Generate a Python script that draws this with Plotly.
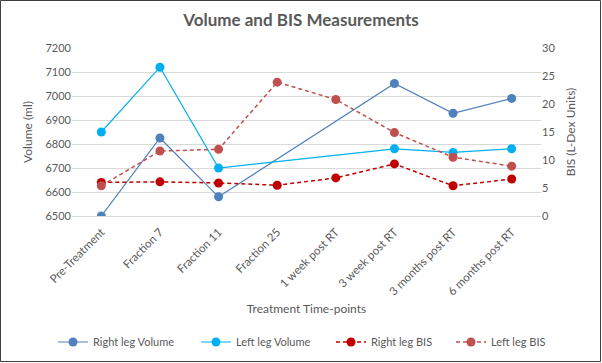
import plotly.graph_objects as go

categories = ["Pre-Treatment", "Fraction 7", "Fraction 11", "Fraction 25",
              "1 week post RT", "3 week post RT", "3 months post RT", "6 months post RT"]
right_leg_volume = [6500, 6825, 6580, None, None, 7052, 6928, 6990]
left_leg_volume = [6850, 7120, 6700, None, None, 6780, 6765, 6780]
right_leg_bis = [6.0, 6.1, 5.9, 5.5, 6.8, 9.3, 5.4, 6.6]
left_leg_bis = [5.4, 11.6, 11.9, 23.9, 20.8, 14.9, 10.5, 8.9]

W, H = 602, 363
ML, MR, MT, MB = 72, 61, 48, 147
FONT = "Lato, 'Open Sans', sans-serif"
GRAY = "#595959"
pw = W - ML - MR
ph = H - MT - MB

fig = go.Figure()
fig.add_trace(go.Scatter(x=categories, y=right_leg_volume, name="Right leg Volume",
                         mode="lines+markers", connectgaps=True, legend="legend",
                         line=dict(color="#4F81BD", width=1.2),
                         marker=dict(color="#4F81BD", size=9)))
fig.add_trace(go.Scatter(x=categories, y=left_leg_volume, name="Left leg Volume",
                         mode="lines+markers", connectgaps=True, legend="legend2",
                         line=dict(color="#00B0F0", width=1.2),
                         marker=dict(color="#00B0F0", size=9)))
fig.add_trace(go.Scatter(x=categories, y=right_leg_bis, name="Right leg BIS", yaxis="y2",
                         mode="lines+markers", legend="legend3",
                         line=dict(color="#C00000", width=1.5, dash="4px,3px"),
                         marker=dict(color="#C00000", size=9)))
fig.add_trace(go.Scatter(x=categories, y=left_leg_bis, name="Left leg BIS", yaxis="y2",
                         mode="lines+markers", legend="legend4",
                         line=dict(color="#C0504D", width=1.5, dash="4px,3px"),
                         marker=dict(color="#C0504D", size=9)))


def leg(px):
    return dict(orientation="h", x=(px - ML) / pw, xanchor="left",
                y=-(342 - MT - ph) / ph, yanchor="middle",
                font=dict(size=11, color=GRAY), itemwidth=30,
                bgcolor="rgba(0,0,0,0)")


fig.update_layout(
    width=W, height=H,
    margin=dict(l=ML, r=MR, t=MT, b=MB, autoexpand=False),
    paper_bgcolor="white", plot_bgcolor="white",
    font=dict(family=FONT, color=GRAY, size=11),
    title=dict(text="<b>Volume and BIS Measurements</b>", x=0.5, xanchor="center",
               y=1 - 20 / H, yanchor="middle", font=dict(size=17, color=GRAY)),
    xaxis=dict(type="category", range=[-0.5, 7.5], tickangle=-45, showgrid=False,
               showline=True, linecolor="#D9D9D9", ticks="",
               ticklabelstandoff=4,
               tickfont=dict(size=11.5, color=GRAY),
               title=dict(text="Treatment Time-points", font=dict(size=12, color=GRAY), standoff=8)),
    yaxis=dict(range=[6500, 7200], dtick=100, showgrid=True, gridcolor="#D9D9D9",
               zeroline=False, showline=False, ticks="",
               tickfont=dict(size=11, color=GRAY),
               title=dict(text="Volume (ml)", font=dict(size=12, color=GRAY), standoff=10)),
    yaxis2=dict(range=[0, 30], dtick=5, overlaying="y", side="right", showgrid=False,
                zeroline=False, showline=False, ticks="",
                tickfont=dict(size=11, color=GRAY),
                title=dict(text="BIS (L-Dex Units)", font=dict(size=12, color=GRAY), standoff=12)),
    legend=leg(59 - 6),
    legend2=leg(202 - 6),
    legend3=leg(337 - 6),
    legend4=leg(457 - 6),
    showlegend=True,
)

fig.add_shape(type="rect", xref="paper", yref="paper",
              x0=-(ML - 0.5) / pw, x1=1 + (MR - 1.5) / pw,
              y0=-(MB - 1.5) / ph, y1=1 + (MT - 0.5) / ph,
              line=dict(color="#404040", width=1), layer="below")

fig.write_html("out.html", config={"displayModeBar": False},
               post_script="document.body.style.margin='0';document.body.style.padding='0';")
